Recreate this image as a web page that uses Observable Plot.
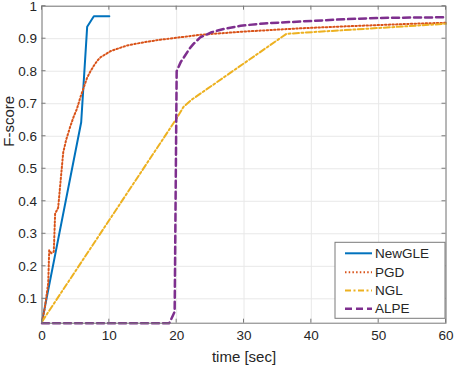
<!DOCTYPE html>
<html><head><meta charset="utf-8">
<script src="https://cdn.jsdelivr.net/npm/d3@7"></script>
<script src="https://cdn.jsdelivr.net/npm/@observablehq/plot@0.6"></script>
<style>body{margin:0;background:#fff}</style>
</head><body><div id="chart"></div>
<script>
const seriesNames = ["NewGLE", "PGD", "NGL", "ALPE"];
const seriesColors = ["#0072BD", "#D95319", "#EDB120", "#7E2F8E"];

const newgleTime = [0, 5.82, 6.71, 7.7, 10];
const newgleF = [0.03, 0.643, 0.937, 0.969, 0.969];

const pgdTime = [0, 0.4, 0.92, 1.07, 1.4, 1.75, 1.95, 2.4, 2.75, 3.15, 3.6, 4.2, 4.7, 5.2, 5.7, 6.2, 6.7, 7.2, 7.7, 8.2, 8.7, 10.2, 12.6, 15.1, 17.6, 20, 23.5, 30, 38.4, 45, 50, 55, 60];
const pgdF = [0.03, 0.07, 0.147, 0.249, 0.24, 0.245, 0.362, 0.38, 0.46, 0.55, 0.59, 0.63, 0.66, 0.685, 0.72, 0.75, 0.78, 0.8, 0.817, 0.832, 0.843, 0.862, 0.879, 0.889, 0.897, 0.903, 0.912, 0.922, 0.932, 0.938, 0.942, 0.946, 0.949];

const nglTime = [0, 20, 21, 22.2, 36.3, 38.4, 50, 60];
const nglF = [0.03, 0.655, 0.69, 0.712, 0.915, 0.918, 0.933, 0.946];

const alpeTime = [0, 18.9, 19.7, 20.0, 20.6, 21.3, 22.0, 22.5, 23.5, 25.2, 27, 29.5, 33, 38.4, 45, 50, 55, 60];
const alpeF = [0.025, 0.025, 0.06, 0.80, 0.828, 0.85, 0.872, 0.884, 0.904, 0.92, 0.93, 0.94, 0.947, 0.953, 0.96, 0.964, 0.965, 0.966];

const xTicks = [0, 10, 20, 30, 40, 50, 60];
const xTickLabels = ["0", "10", "20", "30", "40", "50", "60"];
const yTicks = [0.1, 0.2, 0.3, 0.4, 0.5, 0.6, 0.7, 0.8, 0.9, 1];
const yTickLabels = ["0.1", "0.2", "0.3", "0.4", "0.5", "0.6", "0.7", "0.8", "0.9", "1"];
const xLabel = "time [sec]";
const yLabel = "F-score";

const rows = (name, t, f) => t.map((x, i) => ({series: name, time: x, f: f[i]}));
const newgle = rows("NewGLE", newgleTime, newgleF);
const pgd = rows("PGD", pgdTime, pgdF);
const ngl = rows("NGL", nglTime, nglF);
const alpe = rows("ALPE", alpeTime, alpeF);

const styles = [
  {strokeWidth: 2, strokeDasharray: null},
  {strokeWidth: 2, strokeDasharray: "1.5,2.2"},
  {strokeWidth: 2, strokeDasharray: "6,2.5,2,2.5"},
  {strokeWidth: 2.5, strokeDasharray: "7,4"}
];
const dataSets = [newgle, pgd, ngl, alpe];

const textColor = "#262626";
const axisColor = "#7a7a7a";

const chart = Plot.plot({
  width: 458,
  height: 369,
  marginLeft: 41.5,
  marginRight: 12.5,
  marginTop: 5.7,
  marginBottom: 46.3,
  style: {fontFamily: "'Liberation Sans', Arial, sans-serif", background: "#fff"},
  x: {domain: [0, 60]},
  y: {domain: [0.025, 1]},
  marks: [
    Plot.gridX(xTicks, {stroke: "#e8e8e8", strokeOpacity: 1}),
    Plot.gridY(yTicks, {stroke: "#e8e8e8", strokeOpacity: 1}),
    ...dataSets.map((d, i) => Plot.line(d, {
      x: "time", y: "f", stroke: seriesColors[i],
      strokeWidth: styles[i].strokeWidth,
      strokeDasharray: styles[i].strokeDasharray,
      strokeLinejoin: "round"
    })),
    Plot.frame({stroke: axisColor, strokeWidth: 1}),
    Plot.axisX(xTicks, {tickSize: 0, tickPadding: 7, fontSize: 13.5, fill: textColor, label: null,
      tickFormat: d => xTickLabels[xTicks.indexOf(d)]}),
    Plot.axisY(yTicks, {tickSize: 0, tickPadding: 5, fontSize: 13.5, fill: textColor, label: null,
      tickFormat: d => yTickLabels[yTicks.indexOf(d)]}),
    Plot.text([xLabel], {frameAnchor: "bottom", dy: 33.5, fontSize: 15, fill: textColor, lineAnchor: "middle", text: d => d}),
    Plot.text([yLabel], {frameAnchor: "left", dx: -33, dy: -18, rotate: -90, fontSize: 15, fill: textColor, lineAnchor: "middle", text: d => d})
  ]
});

document.getElementById("chart").appendChild(chart);

// inward tick marks on all four sides, positioned through Plot's scales
const sx = chart.scale("x"), sy = chart.scale("y");
const svg = d3.select(chart);
const x0 = sx.apply(0), x1 = sx.apply(60);
const yB = sy.apply(0.025), yT = sy.apply(1);
const tickLen = 4;
const tg = svg.append("g").attr("stroke", axisColor).attr("stroke-width", 1);
xTicks.forEach(t => {
  const px = sx.apply(t);
  tg.append("line").attr("x1", px).attr("x2", px).attr("y1", yB).attr("y2", yB - tickLen);
  tg.append("line").attr("x1", px).attr("x2", px).attr("y1", yT).attr("y2", yT + tickLen);
});
yTicks.forEach(t => {
  const py = sy.apply(t);
  tg.append("line").attr("x1", x0).attr("x2", x0 + tickLen).attr("y1", py).attr("y2", py);
  tg.append("line").attr("x1", x1).attr("x2", x1 - tickLen).attr("y1", py).attr("y2", py);
});

// legend
const lg = svg.append("g").attr("text-anchor", "start");
const lx = 335, ly = 242.3, lw = 110, lh = 76;
lg.append("rect").attr("x", lx).attr("y", ly).attr("width", lw).attr("height", lh)
  .attr("fill", "#fff").attr("stroke", axisColor).attr("stroke-width", 1);
const rowY = [253.3, 272.2, 290.4, 308.7];
seriesNames.forEach((name, i) => {
  lg.append("line").attr("x1", 345).attr("x2", 372).attr("y1", rowY[i]).attr("y2", rowY[i])
    .attr("stroke", seriesColors[i]).attr("stroke-width", styles[i].strokeWidth)
    .attr("stroke-dasharray", styles[i].strokeDasharray);
  lg.append("text").attr("x", 375).attr("y", rowY[i]).attr("dy", "0.35em")
    .attr("text-anchor", "start")
    .attr("font-size", 13.5).attr("fill", textColor).text(name);
});
</script>
</body></html>
